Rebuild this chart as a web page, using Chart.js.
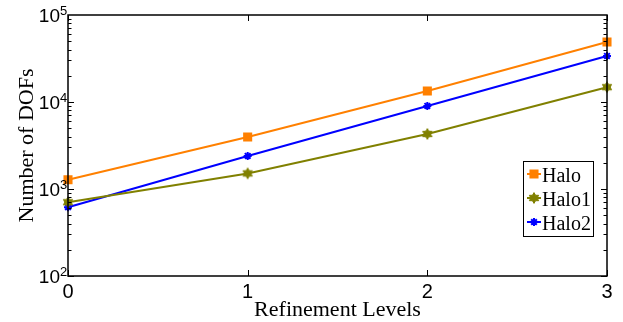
<!DOCTYPE html>
<html>
<head>
<meta charset="utf-8">
<script src="https://cdn.jsdelivr.net/npm/chart.js@4/dist/chart.umd.min.js"></script>
<style>
  html, body { margin: 0; padding: 0; background: #fff; }
  canvas { display: block; }
</style>
</head>
<body>
<canvas id="chart" width="623" height="322"></canvas>
<script>
// refinement levels on the x axis
const levels = [0, 1, 2, 3]
// number of DOFs per series
const halo = [1280, 3960, 13400, 48900]
const halo1 = [705, 1510, 4290, 14800]
const halo2 = [618, 2400, 9000, 33800]
// decade exponents for the y tick labels
const yExponents = [2, 3, 4, 5]
const xTickLabels = ['0', '1', '2', '3']

const ORANGE = 'rgb(255,128,0)'
const OLIVE = 'rgb(128,128,0)'
const BLUE = 'rgb(0,0,255)'

// MATLAB style filled hexagram marker
function hexagram(color) {
  const c = document.createElement('canvas')
  c.width = 14
  c.height = 14
  const g = c.getContext('2d')
  const R = 5.4, r = R / Math.sqrt(3)
  g.beginPath()
  for (let i = 0; i < 12; i++) {
    const ang = -Math.PI / 2 + i * Math.PI / 6
    const rad = i % 2 === 0 ? R : r
    const px = 7 + rad * Math.cos(ang), py = 7 + rad * Math.sin(ang)
    i === 0 ? g.moveTo(px, py) : g.lineTo(px, py)
  }
  g.closePath()
  g.fillStyle = color
  g.fill()
  g.strokeStyle = color
  g.lineWidth = 1
  g.stroke()
  return c
}

const toPoints = vals => levels.map((lv, i) => ({ x: lv, y: vals[i] }))

const series = [
  { label: 'Halo', data: halo, color: ORANGE, pointStyle: 'rect', radius: 5 },
  { label: 'Halo1', data: halo1, color: OLIVE, pointStyle: hexagram(OLIVE), radius: 6 },
  { label: 'Halo2', data: halo2, color: BLUE, pointStyle: 'star', radius: 4 },
]

// box, inner ticks, tick labels, axis titles and legend
const decorations = {
  id: 'decorations',
  afterDraw(chart) {
    const { ctx, chartArea: a, scales: { x, y } } = chart
    ctx.save()
    ctx.strokeStyle = '#000'
    ctx.fillStyle = '#000'

    // inner ticks on the log axis (left and right)
    ctx.lineWidth = 1
    ctx.beginPath()
    for (let e = 2; e < 5; e++) {
      for (let m = 1; m <= 9; m++) {
        const py = Math.round(y.getPixelForValue(m * 10 ** e)) + 0.5
        const len = m === 1 ? 6 : 3.5
        ctx.moveTo(a.left, py); ctx.lineTo(a.left + len, py)
        ctx.moveTo(a.right, py); ctx.lineTo(a.right - len, py)
      }
    }
    levels.forEach(lv => {
      const px = Math.round(x.getPixelForValue(lv)) + 0.5
      ctx.moveTo(px, a.bottom); ctx.lineTo(px, a.bottom - 6)
      ctx.moveTo(px, a.top); ctx.lineTo(px, a.top + 6)
    })
    ctx.stroke()

    // plot box
    ctx.lineWidth = 1.5
    ctx.strokeRect(a.left, a.top, a.right - a.left, a.bottom - a.top)

    // y tick labels 10^n
    yExponents.forEach(e => {
      const py = y.getPixelForValue(10 ** e)
      ctx.font = '19px "Liberation Sans", Arial, sans-serif'
      ctx.textAlign = 'right'
      ctx.textBaseline = 'alphabetic'
      ctx.fillText('10', a.left - 8, py + 7)
      ctx.font = '13px "Liberation Sans", Arial, sans-serif'
      ctx.textAlign = 'left'
      ctx.fillText(String(e), a.left - 8, py)
    })

    // x tick labels
    ctx.font = '20px "Liberation Sans", Arial, sans-serif'
    ctx.textAlign = 'center'
    levels.forEach((lv, i) => {
      ctx.fillText(xTickLabels[i], x.getPixelForValue(lv), 298)
    })

    // axis titles
    ctx.font = '22px "Liberation Serif", "Times New Roman", serif'
    ctx.fillText('Refinement Levels', (a.left + a.right) / 2, 316)
    ctx.save()
    ctx.translate(33, (a.top + a.bottom) / 2)
    ctx.rotate(-Math.PI / 2)
    ctx.fillText('Number of DOFs', 0, 0)
    ctx.restore()

    // legend
    const lx = 523.5, ly = 161.5, lw = 70, lh = 75
    ctx.fillStyle = '#fff'
    ctx.fillRect(lx, ly, lw, lh)
    ctx.lineWidth = 1
    ctx.strokeStyle = '#000'
    ctx.strokeRect(lx, ly, lw, lh)
    series.forEach((s, i) => {
      const cy = 174 + i * 24
      ctx.strokeStyle = s.color
      ctx.fillStyle = s.color
      ctx.lineWidth = 2
      ctx.beginPath()
      ctx.moveTo(527, cy); ctx.lineTo(541, cy)
      ctx.stroke()
      Chart.helpers.drawPoint(ctx, { pointStyle: s.pointStyle, radius: s.radius, rotation: 0, borderWidth: 2 }, 534, cy)
      ctx.fillStyle = '#000'
      ctx.font = '20px "Liberation Serif", "Times New Roman", serif'
      ctx.textAlign = 'left'
      ctx.fillText(s.label, 542, cy + 7.5)
    })
    ctx.restore()
  }
}

new Chart(document.getElementById('chart'), {
  type: 'line',
  data: {
    datasets: series.map(s => ({
      label: s.label,
      data: toPoints(s.data),
      borderColor: s.color,
      backgroundColor: s.color,
      borderWidth: 2,
      pointStyle: s.pointStyle,
      pointRadius: s.radius,
      pointBorderWidth: 2,
      pointBorderColor: s.color,
      pointBackgroundColor: s.color,
      tension: 0,
      clip: false,
    })),
  },
  options: {
    responsive: false,
    animation: false,
    layout: { padding: { left: 68, top: 15, right: 16, bottom: 46 } },
    plugins: { legend: { display: false }, tooltip: { enabled: false } },
    scales: {
      x: { type: 'linear', min: 0, max: 3, display: false },
      y: { type: 'logarithmic', min: 100, max: 100000, display: false },
    },
  },
  plugins: [decorations],
})
</script>
</body>
</html>
